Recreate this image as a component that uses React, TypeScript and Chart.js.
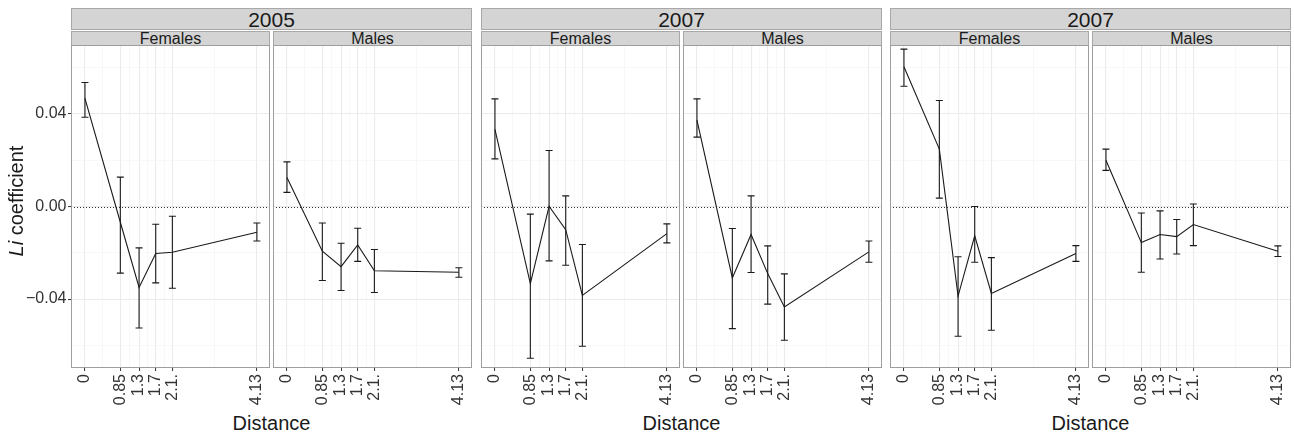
import React, { useEffect, useRef } from 'react';
import { Chart, registerables } from 'chart.js';

Chart.register(...registerables);

// ---------- data ----------
const distances = [0, 0.85, 1.3, 1.7, 2.1, 4.13];
const xTickLabels = ['0', '0.85', '1.3', '1.7', '2.1.', '4.13'];
const xMinorBreaks = [0.425, 1.075, 1.5, 1.9, 3.115];
const yBreaks = [-0.04, 0, 0.04];
const yTickLabels = ['\u22120.04', '0.00', '0.04'];
const yMinorBreaks = [-0.06, -0.02, 0.02, 0.06];
const yearLabels = ['2005', '2007', '2007'];
const sexLabels = ['Females', 'Males'];

// 2005
const f2005Mean = [0.0467, -0.0068, -0.035, -0.0203, -0.0198, -0.0111];
const f2005Lower = [0.0386, -0.0288, -0.0525, -0.033, -0.0353, -0.0149];
const f2005Upper = [0.0536, 0.0127, -0.0179, -0.0077, -0.0042, -0.0071];
const m2005Mean = [0.0125, -0.0193, -0.026, -0.0166, -0.0278, -0.0284];
const m2005Lower = [0.0061, -0.032, -0.0363, -0.0237, -0.0372, -0.0306];
const m2005Upper = [0.0193, -0.0071, -0.0159, -0.0094, -0.0186, -0.0265];
// 2007 (first)
const f2007aMean = [0.0333, -0.0333, 0.0001, -0.01, -0.0384, -0.0117];
const f2007aLower = [0.0206, -0.0656, -0.0235, -0.0254, -0.0604, -0.0157];
const f2007aUpper = [0.0465, -0.0033, 0.0242, 0.0046, -0.0164, -0.0075];
const m2007aMean = [0.0373, -0.0309, -0.0121, -0.029, -0.0434, -0.0196];
const m2007aLower = [0.03, -0.0528, -0.0285, -0.0422, -0.0578, -0.0241];
const m2007aUpper = [0.0465, -0.0095, 0.0046, -0.017, -0.0291, -0.0149];
// 2007 (second)
const f2007bMean = [0.0604, 0.0248, -0.0387, -0.0127, -0.0376, -0.0203];
const f2007bLower = [0.052, 0.0036, -0.0561, -0.0241, -0.0535, -0.0237];
const f2007bUpper = [0.068, 0.0458, -0.0217, 0.0, -0.0221, -0.0169];
const m2007bMean = [0.02, -0.0156, -0.0121, -0.013, -0.0078, -0.0193];
const m2007bLower = [0.0156, -0.0284, -0.0227, -0.0205, -0.0169, -0.0216];
const m2007bUpper = [0.0248, -0.0028, -0.0019, -0.0056, 0.0011, -0.017];

const panelSeries = [
  [
    { mean: f2005Mean, lower: f2005Lower, upper: f2005Upper },
    { mean: m2005Mean, lower: m2005Lower, upper: m2005Upper },
  ],
  [
    { mean: f2007aMean, lower: f2007aLower, upper: f2007aUpper },
    { mean: m2007aMean, lower: m2007aLower, upper: m2007aUpper },
  ],
  [
    { mean: f2007bMean, lower: f2007bLower, upper: f2007bUpper },
    { mean: m2007bMean, lower: m2007bLower, upper: m2007bUpper },
  ],
];

// ---------- layout ----------
const FONT = "'Liberation Sans', Arial, Helvetica, sans-serif";
const GROUP_LEFT = [71, 481, 890];
const PANEL_W = 199;
const PANEL_GAP = 3;
const PLOT_TOP = 45;
const PLOT_BOTTOM = 368;
const CANVAS_TOP = 20;
const CANVAS_BOTTOM = 412;
const SIDE_PAD = 20;
const X_MIN = -0.335;
const X_MAX = 4.445;
const Y_MIN = -0.0698;
const Y_MAX = 0.0698;
const TEXT = '#1a1a1a';
const AXIS_TEXT = '#333333';

const isIn = (arr: number[], v: number) => arr.some((a) => Math.abs(a - v) < 1e-9);

type PanelProps = {
  left: number;
  showY: boolean;
  mean: number[];
  lower: number[];
  upper: number[];
};

function Panel({ left, showY, mean, lower, upper }: PanelProps) {
  const ref = useRef<HTMLCanvasElement | null>(null);
  const canvasLeft = showY ? 0 : left - SIDE_PAD;
  const padLeft = showY ? 0 : SIDE_PAD;
  const yWidth = showY ? left : 0;
  const width = left - canvasLeft + PANEL_W + SIDE_PAD;
  const height = CANVAS_BOTTOM - CANVAS_TOP;

  useEffect(() => {
    if (!ref.current) return;

    const framePlugin = {
      id: 'panelFrame',
      afterDraw(chart: any) {
        const { ctx, chartArea } = chart;
        ctx.save();
        ctx.strokeStyle = '#9e9e9e';
        ctx.lineWidth = 1;
        ctx.strokeRect(
          Math.round(chartArea.left) + 0.5,
          Math.round(chartArea.top) + 0.5,
          Math.round(chartArea.right - chartArea.left) - 1,
          Math.round(chartArea.bottom - chartArea.top) - 1
        );
        ctx.restore();
      },
    };

    const zeroPlugin = {
      id: 'zeroLine',
      beforeDatasetsDraw(chart: any) {
        const { ctx, chartArea, scales } = chart;
        const y = Math.round(scales.y.getPixelForValue(0)) + 0.5;
        ctx.save();
        ctx.strokeStyle = '#333333';
        ctx.lineWidth = 1;
        ctx.setLineDash([1, 2]);
        ctx.beginPath();
        ctx.moveTo(chartArea.left, y);
        ctx.lineTo(chartArea.right, y);
        ctx.stroke();
        ctx.restore();
      },
    };

    const errorPlugin = {
      id: 'errorBars',
      afterDatasetsDraw(chart: any) {
        const { ctx, scales } = chart;
        ctx.save();
        ctx.strokeStyle = '#1a1a1a';
        ctx.lineWidth = 1.1;
        distances.forEach((d, i) => {
          const x = scales.x.getPixelForValue(d);
          const yl = scales.y.getPixelForValue(lower[i]);
          const yh = scales.y.getPixelForValue(upper[i]);
          const cap = 3.5;
          ctx.beginPath();
          ctx.moveTo(x, yl);
          ctx.lineTo(x, yh);
          ctx.moveTo(x - cap, yl);
          ctx.lineTo(x + cap, yl);
          ctx.moveTo(x - cap, yh);
          ctx.lineTo(x + cap, yh);
          ctx.stroke();
        });
        ctx.restore();
      },
    };

    const chart = new Chart(ref.current, {
      type: 'scatter',
      data: {
        datasets: [
          {
            data: distances.map((d, i) => ({ x: d, y: mean[i] })),
            showLine: true,
            borderColor: '#1a1a1a',
            borderWidth: 1.1,
            pointRadius: 0,
            pointHoverRadius: 0,
            fill: false,
            tension: 0,
          },
        ],
      },
      options: {
        animation: false,
        responsive: false,
        events: [],
        layout: { padding: { left: padLeft, right: SIDE_PAD, top: PLOT_TOP - CANVAS_TOP, bottom: 0 } },
        plugins: { legend: { display: false }, tooltip: { enabled: false }, title: { display: false } },
        scales: {
          x: {
            type: 'linear',
            min: X_MIN,
            max: X_MAX,
            afterBuildTicks: (s: any) => {
              s.ticks = [...distances, ...xMinorBreaks].sort((a, b) => a - b).map((v) => ({ value: v }));
            },
            afterFit: (s: any) => {
              s.height = CANVAS_BOTTOM - PLOT_BOTTOM;
            },
            ticks: {
              autoSkip: false,
              minRotation: 90,
              maxRotation: 90,
              padding: 3,
              color: AXIS_TEXT,
              font: { family: FONT, size: 16 },
              callback: (v: any) => {
                const i = distances.findIndex((d) => Math.abs(d - v) < 1e-9);
                return i >= 0 ? xTickLabels[i] : '';
              },
            },
            grid: {
              color: (c: any) => (isIn(distances, c.tick?.value) ? '#ebebeb' : '#f4f4f4'),
              lineWidth: (c: any) => (isIn(distances, c.tick?.value) ? 1.1 : 0.6),
              tickColor: (c: any) => (isIn(distances, c.tick?.value) ? '#333333' : 'rgba(0,0,0,0)'),
              tickLength: 3,
              tickWidth: 1,
            },
            border: { display: false },
          },
          y: {
            type: 'linear',
            min: Y_MIN,
            max: Y_MAX,
            afterBuildTicks: (s: any) => {
              s.ticks = [...yBreaks, ...yMinorBreaks].sort((a, b) => a - b).map((v) => ({ value: v }));
            },
            afterFit: (s: any) => {
              s.width = yWidth;
            },
            ticks: {
              display: showY,
              padding: 1.5,
              color: AXIS_TEXT,
              font: { family: FONT, size: 16 },
              callback: (v: any) => {
                const i = yBreaks.findIndex((d) => Math.abs(d - v) < 1e-9);
                return i >= 0 ? yTickLabels[i] : '';
              },
            },
            grid: {
              drawTicks: showY,
              color: (c: any) => (isIn(yBreaks, c.tick?.value) ? '#ebebeb' : '#f4f4f4'),
              lineWidth: (c: any) => (isIn(yBreaks, c.tick?.value) ? 1.1 : 0.6),
              tickColor: (c: any) => (isIn(yBreaks, c.tick?.value) ? '#333333' : 'rgba(0,0,0,0)'),
              tickLength: 3,
              tickWidth: 1,
            },
            border: { display: false },
          },
        },
      },
      plugins: [zeroPlugin, errorPlugin, framePlugin],
    } as any);

    return () => chart.destroy();
  }, []);

  return (
    <canvas
      ref={ref}
      width={width}
      height={height}
      style={{ position: 'absolute', left: canvasLeft, top: CANVAS_TOP, width, height }}
    />
  );
}

export default function App() {
  const stripBase: React.CSSProperties = {
    position: 'absolute',
    boxSizing: 'border-box',
    background: '#d4d4d4',
    border: '1px solid #a8a8a8',
  };
  const textBase: React.CSSProperties = {
    position: 'absolute',
    textAlign: 'center',
    fontFamily: FONT,
    color: TEXT,
    whiteSpace: 'nowrap',
  };

  return (
    <div
      style={{
        position: 'absolute',
        left: 0,
        top: 0,
        width: 1294,
        height: 437,
        background: '#ffffff',
        overflow: 'hidden',
      }}
    >
      {GROUP_LEFT.map((gl, g) => (
        <React.Fragment key={'g' + g}>
          <div style={{ ...stripBase, left: gl, top: 8, width: PANEL_W * 2 + PANEL_GAP, height: 22 }} />
          <div
            style={{
              ...textBase,
              left: gl,
              top: 9,
              width: PANEL_W * 2 + PANEL_GAP,
              fontSize: 21,
              lineHeight: '21px',
            }}
          >
            {yearLabels[g]}
          </div>
          {sexLabels.map((s, k) => {
            const pl = gl + k * (PANEL_W + PANEL_GAP);
            return (
              <React.Fragment key={'s' + g + k}>
                <div style={{ ...stripBase, left: pl, top: 31, width: PANEL_W, height: 15 }} />
                <div
                  style={{ ...textBase, left: pl, top: 30.5, width: PANEL_W, fontSize: 16, lineHeight: '16px' }}
                >
                  {s}
                </div>
              </React.Fragment>
            );
          })}
          <div
            style={{
              ...textBase,
              left: gl,
              top: 413,
              width: PANEL_W * 2 + PANEL_GAP,
              fontSize: 20,
              lineHeight: '20px',
            }}
          >
            Distance
          </div>
        </React.Fragment>
      ))}

      {GROUP_LEFT.map((gl, g) =>
        panelSeries[g].map((ser, k) => (
          <Panel
            key={'p' + g + k}
            left={gl + k * (PANEL_W + PANEL_GAP)}
            showY={g === 0 && k === 0}
            mean={ser.mean}
            lower={ser.lower}
            upper={ser.upper}
          />
        ))
      )}

      <div
        style={{
          ...textBase,
          left: 16 - 80,
          top: 201 - 12,
          width: 160,
          height: 24,
          fontSize: 20,
          lineHeight: '24px',
          transform: 'rotate(-90deg)',
          transformOrigin: '50% 50%',
        }}
      >
        <i>Li</i> coefficient
      </div>
    </div>
  );
}
